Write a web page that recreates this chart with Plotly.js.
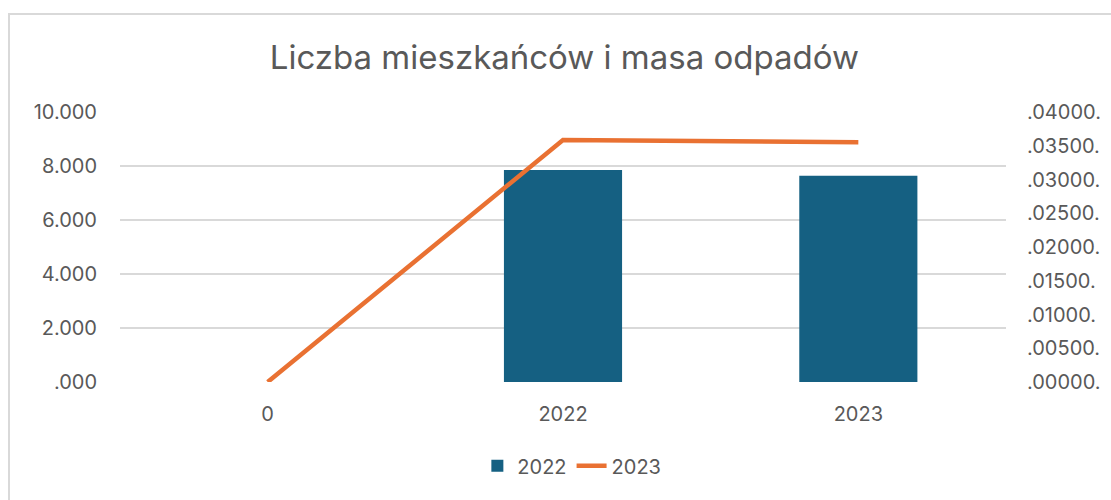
<!DOCTYPE html>
<html>
<head>
<meta charset="utf-8">
<script src="https://cdn.plot.ly/plotly-3.0.1.min.js"></script>
<style>
html,body{margin:0;padding:0;background:#fff;}
#wrap{position:relative;width:1111px;height:500px;overflow:hidden;}
#chart{position:absolute;left:0;top:0;width:1111px;height:500px;}
#frame{position:absolute;left:8px;top:13px;width:1120px;height:500px;border:2px solid #d9d9d9;box-sizing:border-box;pointer-events:none;}
</style>
</head>
<body>
<div id="wrap"><div id="chart"></div><div id="frame"></div></div>
<script>
const categories = ["0", "2022", "2023"];
const barName = "2022";
const barValues = [0, 7850, 7640];
const lineName = "2023";
const lineValues = [0, 0.03585, 0.03551];
const leftTickVals = [0, 2000, 4000, 6000, 8000, 10000];
const leftTickText = [".000", "2.000", "4.000", "6.000", "8.000", "10.000"];
const rightTickVals = [0, 0.005, 0.01, 0.015, 0.02, 0.025, 0.03, 0.035, 0.04];
const rightTickText = [".00000.", ".00500.", ".01000.", ".01500.", ".02000.", ".02500.", ".03000.", ".03500.", ".04000."];
const titleText = "Liczba mieszkańców i masa odpadów";

const font = "Inter, 'Open Sans', sans-serif";
const txt = "#595959";

const data = [
  {type: "bar", x: categories, y: barValues, name: barName, marker: {color: "#156082"}, yaxis: "y"},
  {type: "scatter", mode: "lines", x: categories, y: lineValues, name: lineName, line: {color: "#E97132", width: 4.5}, yaxis: "y2"}
];

const layout = {
  width: 1111, height: 500,
  margin: {l: 120, r: 105, t: 112, b: 118},
  paper_bgcolor: "rgba(0,0,0,0)", plot_bgcolor: "rgba(0,0,0,0)",
  font: {family: font, color: txt, size: 19},
  title: {text: titleText, font: {family: font, size: 33, color: txt}, x: 0.508, xanchor: "center", y: 0.885, yanchor: "middle"},
  bargap: 0.6,
  showlegend: true,
  legend: {orientation: "h", x: 0.51, xanchor: "center", y: -0.31, yanchor: "middle", font: {size: 20, color: txt}},
  xaxis: {type: "category", range: [-0.5, 2.5], showgrid: false, zeroline: false, showline: false, ticks: "", ticklabelstandoff: 18, tickfont: {size: 20, color: txt}},
  yaxis: {range: [0, 10000], tickvals: leftTickVals, ticktext: leftTickText, showgrid: true, gridcolor: "#d9d9d9", gridwidth: 1.5, zeroline: false, showline: false, ticks: "", ticklabelstandoff: 22, tickfont: {size: 20, color: txt}},
  yaxis2: {overlaying: "y", side: "right", range: [0, 0.04], tickvals: rightTickVals, ticktext: rightTickText, showgrid: false, zeroline: false, showline: false, ticks: "", ticklabelstandoff: 20, tickfont: {size: 20, color: txt}}
};

Plotly.newPlot("chart", data, layout, {displayModeBar: false, staticPlot: true});
</script>
</body>
</html>
